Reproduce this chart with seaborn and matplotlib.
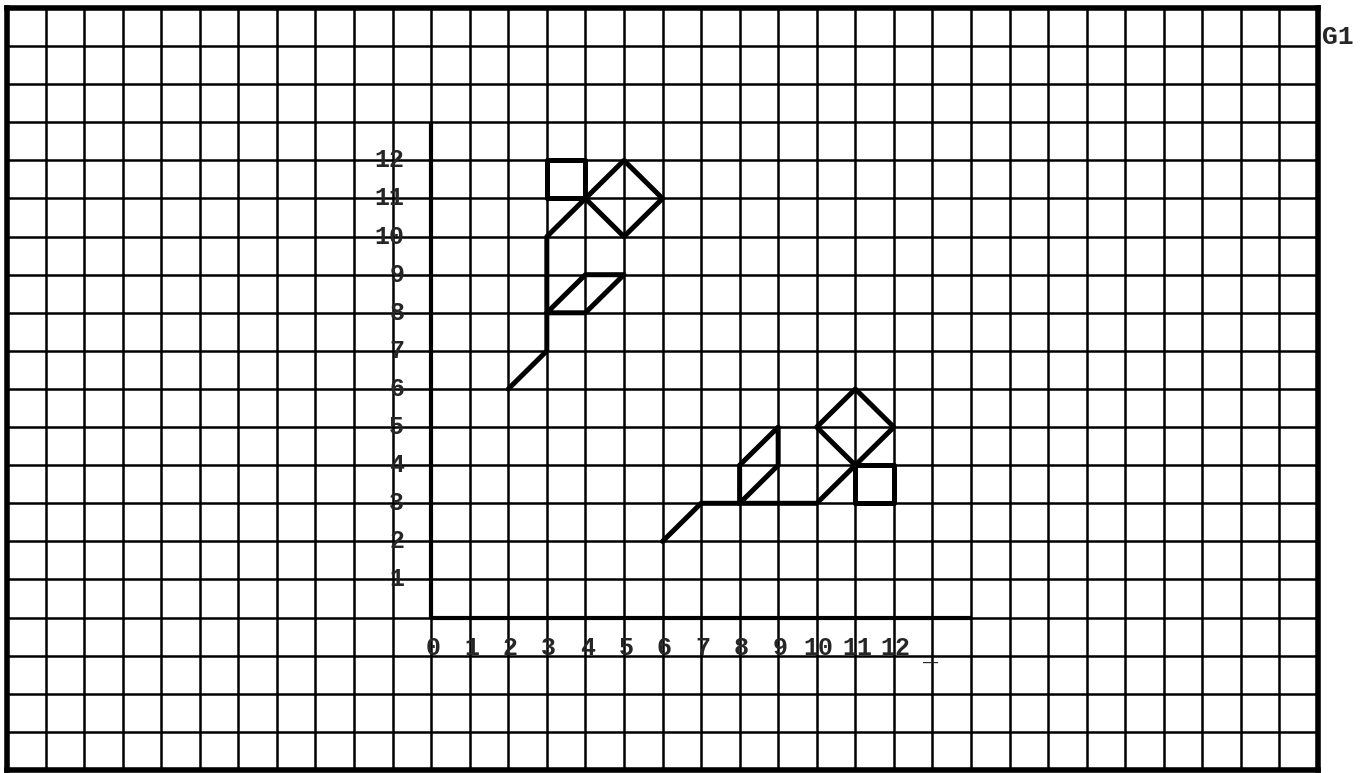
import numpy as np
import pandas as pd
import matplotlib
matplotlib.use('Agg')
import matplotlib.pyplot as plt
import seaborn as sns

# ---- data ----
# extent of the graph paper, in grid units
paper_x = [-11, 23]
paper_y = [-4, 16]

# the drawn axes
x_axis_x = [0, 14]
x_axis_y = [0, 0]
y_axis_x = [0, 0]
y_axis_y = [0, 13]

x_tick_values = [0, 1, 2, 3, 4, 5, 6, 7, 8, 9, 10, 11, 12]
x_tick_labels = ['0', '1', '2', '3', '4', '5', '6', '7', '8', '9', '10', '11', '12']
y_tick_values = [1, 2, 3, 4, 5, 6, 7, 8, 9, 10, 11, 12]
y_tick_labels = ['1', '2', '3', '4', '5', '6', '7', '8', '9', '10', '11', '12']

# upper figure
upper_stem_x = [2, 3, 3, 4]
upper_stem_y = [6, 7, 10, 11]
upper_square_x = [3, 3, 4, 4, 3]
upper_square_y = [11, 12, 12, 11, 11]
upper_diamond_x = [4, 5, 6, 5, 4]
upper_diamond_y = [11, 12, 11, 10, 11]
upper_leaf_x = [3, 4, 5, 4, 3]
upper_leaf_y = [8, 9, 9, 8, 8]

# lower figure
lower_stem_x = [6, 7, 10, 11]
lower_stem_y = [2, 3, 3, 4]
lower_square_x = [11, 11, 12, 12, 11]
lower_square_y = [3, 4, 4, 3, 3]
lower_diamond_x = [11, 10, 11, 12, 11]
lower_diamond_y = [4, 5, 6, 5, 4]
lower_leaf_x = [8, 8, 9, 9, 8]
lower_leaf_y = [3, 4, 5, 4, 3]

shapes = {
    'upper_stem': (upper_stem_x, upper_stem_y),
    'upper_square': (upper_square_x, upper_square_y),
    'upper_diamond': (upper_diamond_x, upper_diamond_y),
    'upper_leaf': (upper_leaf_x, upper_leaf_y),
    'lower_stem': (lower_stem_x, lower_stem_y),
    'lower_square': (lower_square_x, lower_square_y),
    'lower_diamond': (lower_diamond_x, lower_diamond_y),
    'lower_leaf': (lower_leaf_x, lower_leaf_y),
}
df = pd.concat([pd.DataFrame({'x': xs, 'y': ys, 'shape': name})
                for name, (xs, ys) in shapes.items()], ignore_index=True)

# ---- plot ----
sns.set_style('white')
plt.rcParams['font.family'] = ['Liberation Mono', 'DejaVu Sans']

fig = plt.figure(figsize=(13.71, 7.73), dpi=100)
ax = fig.add_axes([7 / 1371, 3 / 773, 1311 / 1371, 762 / 773])

# graph paper grid
ax.set_xlim(paper_x)
ax.set_ylim(paper_y)
ax.set_xticks(np.arange(paper_x[0], paper_x[1] + 1))
ax.set_yticks(np.arange(paper_y[0], paper_y[1] + 1))
ax.grid(True, color='black', linewidth=1.8)
ax.set_axisbelow(True)
ax.tick_params(length=0, labelbottom=False, labelleft=False)
for s in ax.spines.values():
    s.set_visible(True)
    s.set_color('black')
    s.set_linewidth(4)

# axes
ax.plot(x_axis_x, x_axis_y, color='black', linewidth=3, solid_capstyle='butt')
ax.plot(y_axis_x, y_axis_y, color='black', linewidth=3, solid_capstyle='butt')

# figures
sns.lineplot(data=df, x='x', y='y', units='shape', estimator=None, sort=False,
             color='black', linewidth=3.6, legend=False, ax=ax)
ax.set_xlabel('')
ax.set_ylabel('')

# tick labels written on the paper
for v, lab in zip(x_tick_values, x_tick_labels):
    ax.text(v + 0.05, -0.8, lab, ha='center', va='center', fontsize=18, fontweight='bold')
ax.text(12.75, -0.95, '_', ha='left', va='center', fontsize=18, fontweight='bold')
for v, lab in zip(y_tick_values, y_tick_labels):
    ax.text(-0.7, v, lab, ha='right', va='center', fontsize=18, fontweight='bold')

ax.text(23.1, 15.25, 'G1', ha='left', va='center', fontsize=19, fontweight='bold',
        clip_on=False)

fig.savefig('out.png', dpi=100)
